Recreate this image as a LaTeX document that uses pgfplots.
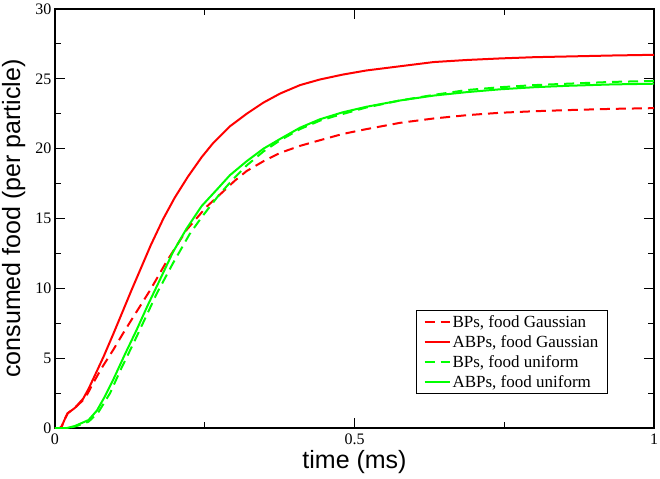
\documentclass[border=0pt]{standalone}
\usepackage{pgfplots}
\pgfplotsset{compat=1.18}
\usepackage{fontspec}
\setmainfont{Liberation Serif}
\newfontfamily\arial{Liberation Sans}
\definecolor{gred}{RGB}{255,0,0}
\definecolor{ggreen}{RGB}{0,255,0}
\begin{document}
\begin{tikzpicture}
\begin{axis}[
  scale only axis,
  width=599bp, height=419bp,
  xmin=0, xmax=1, ymin=0, ymax=30,
  xtick={0,0.5,1}, ytick={0,5,...,30},
  minor x tick num=1, minor y tick num=1,
  tick align=inside,
  major tick length=10bp, minor tick length=6bp,
  axis line style={line width=1.3bp},
  every tick/.style={black, line width=1.1bp},
  /pgf/number format/assume math mode=true,
  ticklabel style={font=\fontsize{16bp}{18bp}\selectfont},
  xticklabel style={yshift=-2bp},
  xlabel={\arial time (ms)},
  ylabel={\arial consumed food (per particle)},
  xlabel style={font=\fontsize{25bp}{27bp}\selectfont, at={(axis description cs:0.5,-0.081)}, anchor=center},
  ylabel style={font=\fontsize{25bp}{27bp}\selectfont, at={(axis description cs:-0.069,0.5)}, anchor=center, rotate=0},
  legend style={at={(axis description cs:0.923,0.081)}, anchor=south east,
    draw=black, line width=0.8bp, fill=white,
    font=\fontsize{17bp}{19bp}\selectfont, row sep=2.5bp,
    inner xsep=7bp, inner ysep=3bp},
  legend cell align=left,
  legend image code/.code={\draw[#1, line width=2bp] (0bp,0bp) -- (25bp,0bp);},
]
\addplot[gred, line width=2bp, dash pattern=on 10bp off 6bp] table {
0 0
0.008 0
0.011 0.1
0.016 0.6
0.021 1.05
0.033 1.43
0.047 2.0
0.055 2.5
0.061 3.0
0.078 4.3
0.097 5.58
0.114 6.8
0.131 7.97
0.159 9.88
0.186 11.9
0.220 14.2
0.253 15.84
0.275 16.7
0.300 17.7
0.320 18.4
0.348 19.1
0.376 19.7
0.409 20.2
0.442 20.6
0.480 21.05
0.520 21.4
0.576 21.85
0.632 22.16
0.688 22.4
0.743 22.57
0.800 22.68
0.855 22.76
0.930 22.85
1 22.9
};
\addlegendentry{BPs, food Gaussian}
\addplot[gred, line width=2bp] table {
0 0
0.008 0
0.011 0.1
0.016 0.6
0.021 1.05
0.033 1.43
0.047 2.1
0.056 2.8
0.068 3.9
0.081 5.1
0.097 6.7
0.114 8.45
0.128 9.9
0.142 11.3
0.160 13.1
0.181 15.0
0.200 16.5
0.222 18.0
0.245 19.4
0.264 20.4
0.292 21.6
0.320 22.5
0.348 23.3
0.376 23.95
0.409 24.55
0.442 24.95
0.480 25.3
0.520 25.6
0.576 25.9
0.632 26.2
0.688 26.35
0.743 26.46
0.800 26.55
0.855 26.6
0.930 26.67
1 26.72
};
\addlegendentry{ABPs, food Gaussian}
\addplot[ggreen, line width=2bp, dash pattern=on 10bp off 6bp] table {
0 0
0.020 0
0.033 0.1
0.056 0.45
0.072 1.1
0.092 2.5
0.111 4.3
0.131 6.06
0.150 7.8
0.170 9.64
0.197 11.8
0.225 13.9
0.245 15.1
0.274 16.7
0.297 17.8
0.320 18.8
0.348 19.8
0.376 20.6
0.409 21.4
0.442 22.0
0.465 22.3
0.520 22.95
0.576 23.45
0.632 23.85
0.688 24.2
0.743 24.4
0.800 24.55
0.855 24.65
0.930 24.78
1 24.85
};
\addlegendentry{BPs, food uniform}
\addplot[ggreen, line width=2bp] table {
0 0
0.020 0
0.033 0.14
0.056 0.57
0.070 1.25
0.083 2.24
0.097 3.44
0.117 5.3
0.136 7.0
0.155 8.8
0.175 10.6
0.197 12.6
0.220 14.3
0.245 15.9
0.273 17.2
0.292 18.1
0.320 19.1
0.348 20.0
0.376 20.7
0.409 21.5
0.442 22.1
0.480 22.6
0.520 23.0
0.576 23.45
0.632 23.8
0.688 24.05
0.743 24.25
0.800 24.4
0.855 24.5
0.930 24.6
1 24.65
};
\addlegendentry{ABPs, food uniform}
\end{axis}
\pgfresetboundingbox
\path[use as bounding box] ([shift={(-55bp,-51bp)}]current axis.south west) rectangle ([shift={(6bp,9bp)}]current axis.north east);
\end{tikzpicture}
\end{document}
